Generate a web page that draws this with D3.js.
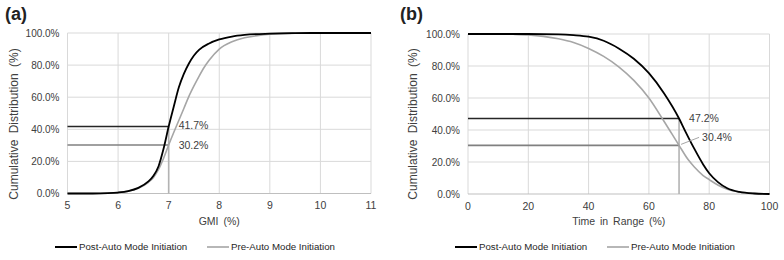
<!DOCTYPE html>
<html>
<head>
<meta charset="utf-8">
<script src="https://cdn.jsdelivr.net/npm/d3@7"></script>
<style>
  body { margin: 0; background: #fff; }
  svg { display: block; font-family: "Liberation Sans", Arial, sans-serif; }
</style>
</head>
<body>
<svg id="chart" width="784" height="260"></svg>
<script>
// GMI panel (a)
const gmiX = [5, 5.5, 5.8, 6.0, 6.2, 6.4, 6.6, 6.7, 6.8, 6.9, 7.0, 7.1, 7.2, 7.3, 7.4, 7.5, 7.6, 7.8, 8.0, 8.25, 8.5, 9.0, 9.5, 10, 11];
const gmiPost = [0, 0, 0.2, 0.6, 1.5, 3.5, 7.5, 11, 17, 28, 41.7, 54, 66, 74.5, 81, 86, 89.5, 93.5, 96, 97.8, 98.8, 99.6, 99.9, 100, 100];
const gmiPreX = [5, 5.5, 5.8, 6.0, 6.2, 6.4, 6.6, 6.7, 6.8, 6.9, 7.0, 7.1, 7.2, 7.3, 7.4, 7.5, 7.6, 7.7, 7.8, 8.0, 8.25, 8.5, 8.75, 9.0, 9.5, 10, 11];
const gmiPre = [0, 0, 0.2, 0.6, 1.5, 3.3, 7, 10, 15, 22, 30.2, 38, 45.5, 53, 60.5, 67, 73, 78.5, 83, 90, 94.5, 97, 98.3, 99.2, 99.8, 100, 100];
const gmiTicks = [5, 6, 7, 8, 9, 10, 11];

// Time in range panel (b)
const tirPostX = [0, 20, 30, 35, 40, 45, 50, 55, 60, 65, 70, 72, 75, 78, 80, 83, 86, 90, 95, 100];
const tirPost = [100, 100, 99.8, 99.3, 98.3, 95.8, 91, 84.5, 75.5, 63, 47.2, 39.5, 28.5, 18.5, 13, 7.3, 3.6, 1.3, 0.3, 0];
const tirPreX = [0, 10, 15, 20, 25, 30, 35, 40, 45, 50, 55, 60, 65, 70, 73, 75, 78, 80, 83, 86, 90, 95, 100];
const tirPre = [100, 100, 99.8, 99.4, 98.5, 97, 94.7, 91, 86, 79.5, 71, 60, 45.5, 30.4, 21.5, 17, 11.5, 9, 5.5, 3, 1.2, 0.3, 0];
const tirTicks = [0, 20, 40, 60, 80, 100];

const yTicks = [0, 20, 40, 60, 80, 100];
const seriesNames = ["Post-Auto Mode Initiation", "Pre-Auto Mode Initiation"];

(function () {
  const svg = d3.select("#chart");
  const fmtPct = (d) => d3.format(".1f")(d) + "%";

  function drawPanel(opt) {
    const g = svg.append("g");
    const x = d3.scaleLinear().domain(opt.xDomain).range(opt.xRange);
    const y = d3.scaleLinear().domain([0, 100]).range(opt.yRange);

    // grid
    g.selectAll("line.vgrid")
      .data(opt.xTicks)
      .join("line")
      .attr("x1", (d) => x(d))
      .attr("x2", (d) => x(d))
      .attr("y1", y(0))
      .attr("y2", y(100))
      .attr("stroke", "#d9d9d9")
      .attr("stroke-width", 1);
    g.selectAll("line.hgrid")
      .data(yTicks.slice(1))
      .join("line")
      .attr("x1", x.range()[0])
      .attr("x2", x.range()[1])
      .attr("y1", (d) => y(d))
      .attr("y2", (d) => y(d))
      .attr("stroke", "#d9d9d9");
    g.append("line")
      .attr("x1", x.range()[0])
      .attr("x2", x.range()[1])
      .attr("y1", y(0))
      .attr("y2", y(0))
      .attr("stroke", "#bfbfbf");

    // tick labels
    g.selectAll("text.ytick")
      .data(yTicks)
      .join("text")
      .attr("x", x.range()[0] - 8)
      .attr("y", (d) => y(d))
      .attr("dy", "0.35em")
      .attr("text-anchor", "end")
      .attr("font-size", 10)
      .attr("fill", "#404040")
      .text(fmtPct);
    g.selectAll("text.xtick")
      .data(opt.xTicks)
      .join("text")
      .attr("x", (d) => x(d))
      .attr("y", y(0) + 12)
      .attr("dy", "0.35em")
      .attr("text-anchor", "middle")
      .attr("font-size", 10.5)
      .attr("fill", "#404040")
      .text((d) => d);

    // titles
    g.append("text")
      .attr("x", opt.titleX)
      .attr("y", 20)
      .attr("font-size", 18)
      .attr("font-weight", "bold")
      .attr("fill", "#222")
      .text(opt.title);
    g.append("text")
      .attr("transform", `translate(${opt.yTitleX},124) rotate(-90)`)
      .attr("text-anchor", "middle")
      .attr("dy", "0.35em")
      .attr("font-size", 12)
      .attr("fill", "#404040")
      .attr("word-spacing", 3)
      .text("Cumulative Distribution (%)");
    g.append("text")
      .attr("x", (x.range()[0] + x.range()[1]) / 2)
      .attr("y", 221)
      .attr("dy", "0.35em")
      .attr("text-anchor", "middle")
      .attr("font-size", 10.5)
      .attr("fill", "#404040")
      .attr("word-spacing", 2)
      .text(opt.xTitle);

    // threshold markers
    g.append("line")
      .attr("x1", x(opt.cut))
      .attr("x2", x(opt.cut))
      .attr("y1", y(0))
      .attr("y2", y(opt.postAt))
      .attr("stroke", "#b3b3b3")
      .attr("stroke-width", 1.6);
    g.append("line")
      .attr("x1", x.range()[0])
      .attr("x2", x(opt.cut))
      .attr("y1", y(opt.preAt))
      .attr("y2", y(opt.preAt))
      .attr("stroke", "#808080")
      .attr("stroke-width", 1.6);
    g.append("line")
      .attr("x1", x.range()[0])
      .attr("x2", x(opt.cut))
      .attr("y1", y(opt.postAt))
      .attr("y2", y(opt.postAt))
      .attr("stroke", "#262626")
      .attr("stroke-width", 1.6);

    const line = d3
      .line()
      .x((d) => x(d[0]))
      .y((d) => y(d[1]))
      .curve(d3.curveMonotoneX);

    g.append("path")
      .attr("d", line(d3.zip(opt.preX, opt.pre)))
      .attr("fill", "none")
      .attr("stroke", "#a6a6a6")
      .attr("stroke-width", 1.6);
    g.append("path")
      .attr("d", line(d3.zip(opt.postX, opt.post)))
      .attr("fill", "none")
      .attr("stroke", "#000")
      .attr("stroke-width", 1.8);

    // value labels
    g.append("text")
      .attr("x", x(opt.cut) + opt.postLabel[0])
      .attr("y", y(opt.postAt) + opt.postLabel[1])
      .attr("dy", "0.35em")
      .attr("font-size", 10.5)
      .attr("fill", "#404040")
      .text(fmtPct(opt.postAt));
    if (opt.leader) {
      g.append("line")
        .attr("x1", x(opt.cut) + 2)
        .attr("y1", y(opt.preAt) - 1)
        .attr("x2", x(opt.cut) + opt.preLabel[0] - 3)
        .attr("y2", y(opt.preAt) + opt.preLabel[1])
        .attr("stroke", "#a6a6a6")
        .attr("stroke-width", 1);
    }
    g.append("text")
      .attr("x", x(opt.cut) + opt.preLabel[0])
      .attr("y", y(opt.preAt) + opt.preLabel[1])
      .attr("dy", "0.35em")
      .attr("font-size", 10.5)
      .attr("fill", "#404040")
      .text(fmtPct(opt.preAt));

    // legend
    const leg = g.append("g").attr("transform", `translate(${opt.legendX},247)`);
    [
      { name: seriesNames[0], color: "#000", w: 2, x0: 0 },
      { name: seriesNames[1], color: "#a6a6a6", w: 1.6, x0: 152 },
    ].forEach((s) => {
      leg.append("line")
        .attr("x1", s.x0)
        .attr("x2", s.x0 + 22)
        .attr("stroke", s.color)
        .attr("stroke-width", s.w);
      leg.append("text")
        .attr("x", s.x0 + 24)
        .attr("dy", "0.35em")
        .attr("font-size", 9.7)
        .attr("fill", "#262626")
        .text(s.name);
    });
  }

  drawPanel({
    title: "(a)",
    titleX: 5,
    yTitleX: 14,
    xTitle: "GMI (%)",
    xDomain: [5, 11],
    xRange: [67.5, 371],
    yRange: [193.5, 33],
    xTicks: gmiTicks,
    postX: gmiX,
    post: gmiPost,
    preX: gmiPreX,
    pre: gmiPre,
    cut: 7,
    postAt: 41.7,
    preAt: 30.2,
    postLabel: [10, -1],
    preLabel: [10, 0],
    leader: false,
    legendX: 55,
  });

  drawPanel({
    title: "(b)",
    titleX: 400,
    yTitleX: 413,
    xTitle: "Time in Range (%)",
    xDomain: [0, 100],
    xRange: [468, 769.5],
    yRange: [194, 34],
    xTicks: tirTicks,
    postX: tirPostX,
    post: tirPost,
    preX: tirPreX,
    pre: tirPre,
    cut: 70,
    postAt: 47.2,
    preAt: 30.4,
    postLabel: [10, 0],
    preLabel: [23, -8],
    leader: true,
    legendX: 455,
  });
})();
</script>
</body>
</html>
